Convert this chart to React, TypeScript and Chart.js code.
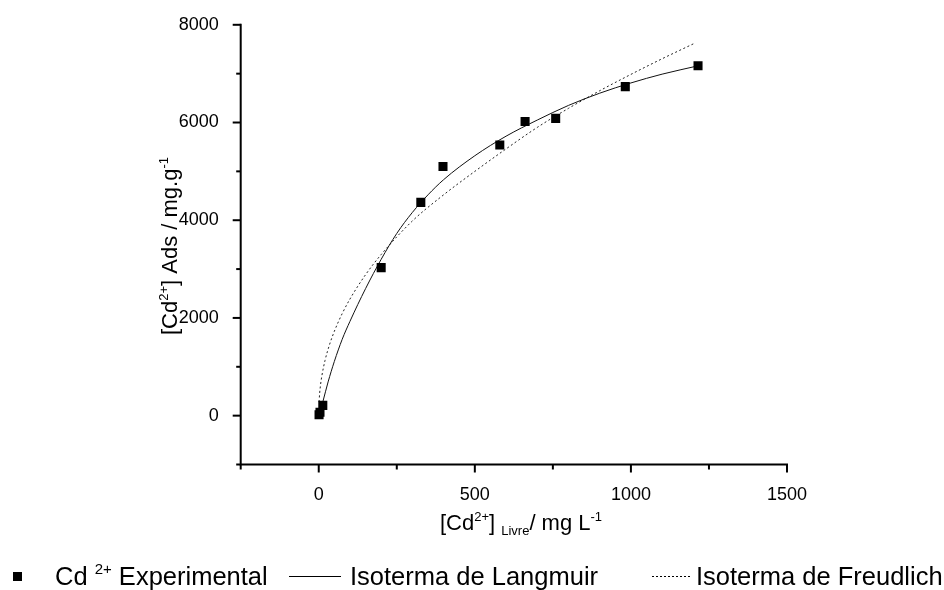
import React, { useEffect, useRef } from 'react';
import { Chart, registerables } from 'chart.js';

Chart.register(...registerables);

// Experimental points
const expX = [1, 4, 13, 200, 327, 398, 580, 661, 759, 982, 1215];
const expY = [20, 70, 210, 3030, 4365, 5100, 5540, 6020, 6085, 6735, 7160];

// Langmuir isotherm
const langX = [13, 30, 50, 75, 100, 150, 200, 250, 300, 350, 400, 500, 600, 700, 800, 900, 1000, 1100, 1215];
const langY = [280, 690, 1110, 1560, 1930, 2600, 3200, 3730, 4160, 4520, 4830, 5320, 5720, 6050, 6350, 6600, 6810, 6990, 7160];

// Freundlich isotherm
const freuX = [1, 3, 6, 10, 20, 35, 50, 75, 100, 150, 200, 300, 400, 500, 600, 700, 800, 900, 1000, 1100, 1200];
const freuY = [280, 465, 642, 815, 1127, 1462, 1727, 2087, 2387, 2885, 3298, 3985, 4520, 5000, 5460, 5900, 6290, 6650, 6985, 7305, 7610];

const xTicks = [-250, 0, 250, 500, 750, 1000, 1250, 1500];
const xLabeled = [0, 500, 1000, 1500];
const yTicks = [-1000, 0, 1000, 2000, 3000, 4000, 5000, 6000, 7000, 8000];
const yLabeled = [0, 2000, 4000, 6000, 8000];

const FONT = '"Liberation Sans", Arial, Helvetica, sans-serif';

type Part = [string, number, number];

function drawRich(ctx: CanvasRenderingContext2D, parts: Part[], x: number, y: number, align: 'left' | 'center') {
  const widths = parts.map((p) => {
    ctx.font = `${p[1]}px ${FONT}`;
    return ctx.measureText(p[0]).width;
  });
  const total = widths.reduce((a, b) => a + b, 0);
  let cx = align === 'center' ? x - total / 2 : x;
  ctx.textAlign = 'left';
  ctx.textBaseline = 'alphabetic';
  parts.forEach((p, i) => {
    ctx.font = `${p[1]}px ${FONT}`;
    ctx.fillText(p[0], cx, y + p[2]);
    cx += widths[i];
  });
}

const decorPlugin = {
  id: 'decor',
  afterDraw(chart: any) {
    const ctx: CanvasRenderingContext2D = chart.ctx;
    const area = chart.chartArea;
    const xs = chart.scales.x;
    const ys = chart.scales.y;
    ctx.save();
    ctx.strokeStyle = '#000';
    ctx.fillStyle = '#000';
    // axis lines
    ctx.lineWidth = 2;
    ctx.beginPath();
    ctx.moveTo(area.left, area.top - 1);
    ctx.lineTo(area.left, area.bottom);
    ctx.lineTo(area.right + 1, area.bottom);
    ctx.stroke();
    // ticks
    xTicks.forEach((v) => {
      const px = xs.getPixelForValue(v);
      const len = xLabeled.includes(v) ? 8 : 5;
      ctx.beginPath();
      ctx.moveTo(px, area.bottom);
      ctx.lineTo(px, area.bottom + len);
      ctx.stroke();
    });
    yTicks.forEach((v) => {
      const py = ys.getPixelForValue(v);
      const len = yLabeled.includes(v) ? 8 : 4.5;
      ctx.beginPath();
      ctx.moveTo(area.left, py);
      ctx.lineTo(area.left - len, py);
      ctx.stroke();
    });

    // x title
    drawRich(
      ctx,
      [
        ['[Cd', 22, 0],
        ['2+', 13, -9],
        [']', 22, 0],
        [' ', 22, 0],
        ['Livre', 13, 5],
        ['/ mg L', 22, 0],
        ['-1', 13, -9],
      ],
      521,
      530,
      'center'
    );

    // y title
    ctx.save();
    ctx.translate(177, 246);
    ctx.rotate(-Math.PI / 2);
    drawRich(
      ctx,
      [
        ['[Cd', 22, 0],
        ['2+', 13, -9],
        ['] Ads / mg.g', 22, 0],
        ['-1', 13, -9],
      ],
      0,
      0,
      'center'
    );
    ctx.restore();

    // legend
    const base = 585;
    ctx.fillRect(13, 572, 9, 9);
    drawRich(
      ctx,
      [
        ['Cd ', 25.5, 0],
        ['2+', 15, -11],
        [' Experimental', 25.5, 0],
      ],
      55,
      base,
      'left'
    );
    ctx.lineWidth = 1;
    ctx.setLineDash([]);
    ctx.beginPath();
    ctx.moveTo(289, 576.5);
    ctx.lineTo(341, 576.5);
    ctx.stroke();
    drawRich(ctx, [['Isoterma de Langmuir', 25.5, 0]], 350, base, 'left');
    ctx.setLineDash([2, 2]);
    ctx.beginPath();
    ctx.moveTo(652, 576.5);
    ctx.lineTo(691, 576.5);
    ctx.stroke();
    ctx.setLineDash([]);
    drawRich(ctx, [['Isoterma de Freudlich', 25.5, 0]], 696, base, 'left');

    ctx.restore();
  },
};

export default function App() {
  const ref = useRef<HTMLCanvasElement | null>(null);

  useEffect(() => {
    document.body.style.margin = '0';
    const canvas = ref.current;
    if (!canvas) return;
    const chart = new Chart(canvas, {
      type: 'scatter',
      data: {
        datasets: [
          {
            label: 'Cd 2+ Experimental',
            data: expX.map((x, i) => ({ x, y: expY[i] })),
            showLine: false,
            pointStyle: 'rect',
            pointRadius: 6.4,
            pointBorderWidth: 0,
            backgroundColor: '#000',
            borderColor: '#000',
            order: 0,
          },
          {
            label: 'Isoterma de Langmuir',
            data: langX.map((x, i) => ({ x, y: langY[i] })),
            showLine: true,
            pointRadius: 0,
            borderColor: '#111',
            borderWidth: 1,
            cubicInterpolationMode: 'monotone',
            order: 1,
          },
          {
            label: 'Isoterma de Freudlich',
            data: freuX.map((x, i) => ({ x, y: freuY[i] })),
            showLine: true,
            pointRadius: 0,
            borderColor: '#222',
            borderWidth: 1,
            borderDash: [2, 2.5],
            cubicInterpolationMode: 'monotone',
            order: 2,
          },
        ],
      },
      options: {
        responsive: false,
        animation: false,
        events: [],
        layout: { padding: { left: 0, right: 157, top: 24, bottom: 0 } },
        plugins: { legend: { display: false }, tooltip: { enabled: false } },
        scales: {
          x: {
            type: 'linear',
            min: -250,
            max: 1500,
            afterBuildTicks: (s: any) => {
              s.ticks = xTicks.map((v) => ({ value: v }));
            },
            afterFit: (s: any) => {
              s.height = 125.5;
            },
            grid: { display: false },
            border: { display: false },
            ticks: {
              autoSkip: false,
              maxRotation: 0,
              padding: 12,
              color: '#000',
              font: { family: FONT, size: 18 },
              callback: (v: any) => (xLabeled.includes(Number(v)) ? String(v) : ''),
            },
          },
          y: {
            type: 'linear',
            min: -1000,
            max: 8000,
            afterBuildTicks: (s: any) => {
              s.ticks = yTicks.map((v) => ({ value: v }));
            },
            afterFit: (s: any) => {
              s.width = 240.7;
            },
            grid: { display: false },
            border: { display: false },
            ticks: {
              autoSkip: false,
              padding: 14,
              color: '#000',
              font: { family: FONT, size: 18 },
              callback: (v: any) => (yLabeled.includes(Number(v)) ? String(v) : ''),
            },
          },
        },
      },
      plugins: [decorPlugin],
    } as any);
    return () => chart.destroy();
  }, []);

  return (
    <div style={{ position: 'fixed', left: 0, top: 0, width: 944, height: 590, background: '#fff' }}>
      <canvas ref={ref} width={944} height={590} style={{ width: 944, height: 590, display: 'block' }} />
    </div>
  );
}
